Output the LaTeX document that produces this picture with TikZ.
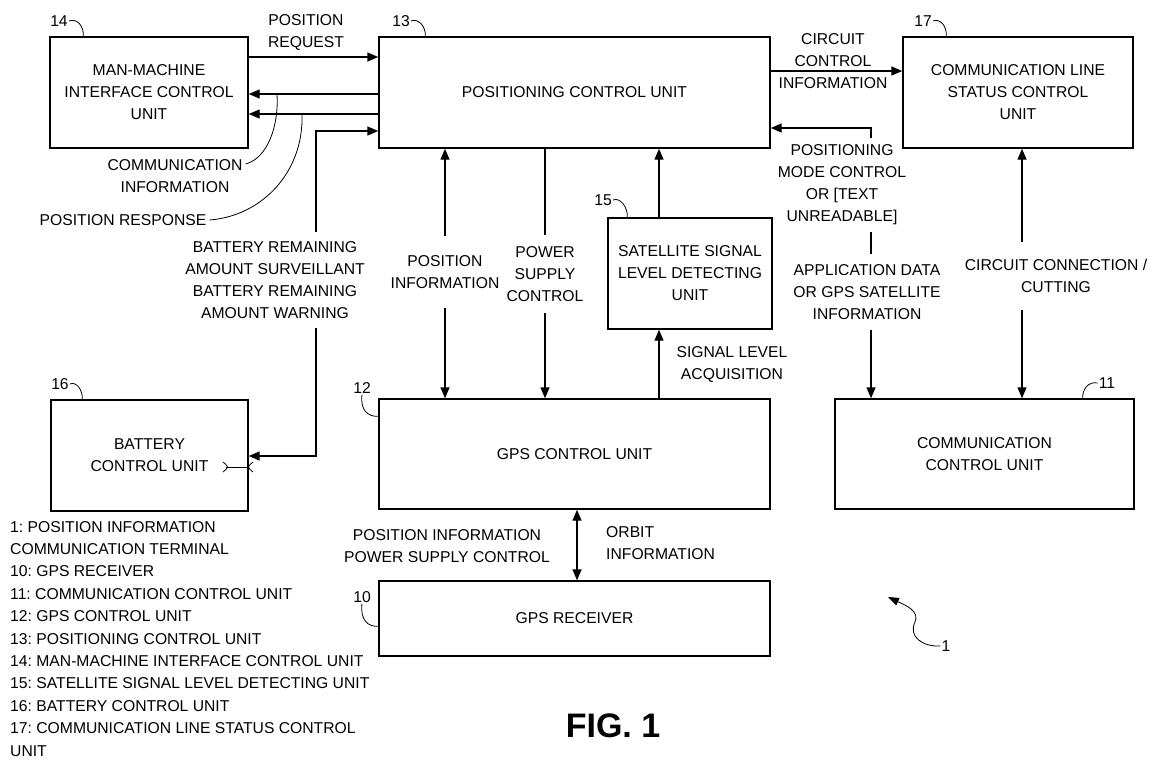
\documentclass[tikz,border=0pt]{standalone}
\usepackage{fontspec}
\setmainfont{Liberation Sans}
\usepackage{tikz}
\usetikzlibrary{arrows.meta}
\frenchspacing

\begin{document}
\begin{tikzpicture}[x=1pt,y=-1pt,>={Triangle[length=11pt,width=9pt]},
  font=\fontsize{15.7}{22}\selectfont,
  unit/.style={draw,line width=1.4pt,align=center,inner sep=0pt},
  flow/.style={line width=1.4pt},
  lead/.style={line width=0.8pt},
  lbl/.style={align=center,inner sep=3pt},
  gap/.style={align=center,inner xsep=3pt,inner ysep=0pt},
  tag/.style={inner sep=1pt}]
  \useasboundingbox (0,0) rectangle (1156,761);
  % blocks
  \node[unit,minimum width=198pt,minimum height=111pt] (mmi) at (149,92.5) {MAN-MACHINE\\INTERFACE CONTROL\\UNIT};
  \node[unit,minimum width=391pt,minimum height=111pt] (pcu) at (574.5,92.5) {POSITIONING CONTROL UNIT};
  \node[unit,minimum width=230pt,minimum height=111pt] (clsc) at (1018,92.5) {COMMUNICATION LINE\\STATUS CONTROL\\UNIT};
  \node[unit,minimum width=164pt,minimum height=111pt] (ssld) at (690,273.5) {SATELLITE SIGNAL\\LEVEL DETECTING\\UNIT};
  \node[unit,minimum width=197pt,minimum height=111pt] (bcu) at (149.5,455.5) {BATTERY\\CONTROL UNIT};
  \node[unit,minimum width=391pt,minimum height=110pt] (gcu) at (574.5,454) {GPS CONTROL UNIT};
  \node[unit,minimum width=391pt,minimum height=75pt] (gpsr) at (574.5,618.5) {GPS RECEIVER};
  \node[unit,minimum width=299pt,minimum height=110pt] (ccu) at (984.5,454) {COMMUNICATION\\CONTROL UNIT};
  % labels that cut a line
  \node[gap,minimum height=96pt] (batt) at (275,280) {BATTERY REMAINING\\AMOUNT SURVEILLANT\\BATTERY REMAINING\\AMOUNT WARNING};
  \node[gap,minimum height=72pt] (posinfo) at (445,272) {POSITION\\INFORMATION};
  \node[gap,minimum height=78pt] (psc) at (545,274) {POWER\\SUPPLY\\CONTROL};
  \node[gap,minimum height=94pt] (pmode) at (842,185) {POSITIONING\\MODE CONTROL\\OR [TEXT\\UNREADABLE]};
  \node[gap,minimum height=75pt] (appdata) at (867,292) {APPLICATION DATA\\OR GPS SATELLITE\\INFORMATION};
  \node[gap,minimum height=68pt] (cconn) at (1056,276) {CIRCUIT CONNECTION /\\CUTTING};
  % other labels
  \node[lbl] (preq) at (306,32) {POSITION\\REQUEST};
  \node[lbl] (cinfo) at (175,176) {COMMUNICATION\\INFORMATION};
  \node[lbl] (presp) at (123,220) {POSITION RESPONSE};
  \node[lbl] (ccinfo) at (833,61) {CIRCUIT\\CONTROL\\INFORMATION};
  \node[lbl] (siglev) at (732,364) {SIGNAL LEVEL\\ACQUISITION};
  \node[lbl,anchor=west,align=left] (orbit) at (603,543) {ORBIT\\INFORMATION};
  \node[lbl] (pisc) at (447,546) {POSITION INFORMATION\\POWER SUPPLY CONTROL};
  % connectors
  \draw[flow,->] (mmi.east |- 0,57) -- (pcu.west |- 0,57);
  \draw[flow,->] (pcu.west |- 0,94) -- (mmi.east |- 0,94);
  \draw[flow,->] (pcu.west |- 0,114) -- (mmi.east |- 0,114);
  \draw[flow,<-] (bcu.east |- 0,456) -| (batt.south -| 316,0);
  \draw[flow,->] (batt.north -| 316,0) |- (pcu.west |- 0,131);
  \draw[flow,->] (pcu.east |- 0,71) -- (clsc.west |- 0,71);
  \draw[flow,<-] (pcu.south -| 445,0) -- (posinfo.north -| 445,0);
  \draw[flow,->] (posinfo.south -| 445,0) -- (gcu.north -| 445,0);
  \draw[flow] (pcu.south -| 545,0) -- (psc.north -| 545,0);
  \draw[flow,->] (psc.south -| 545,0) -- (gcu.north -| 545,0);
  \draw[flow,->] (ssld.north -| 659,0) -- (pcu.south -| 659,0);
  \draw[flow,->] (gcu.north -| 659,0) -- (ssld.south -| 659,0);
  \draw[flow,->] (pmode.north -| 871,0) |- (pcu.east |- 0,128);
  \draw[flow] (pmode.south -| 871,0) -- (appdata.north -| 871,0);
  \draw[flow,->] (appdata.south -| 871,0) -- (ccu.north -| 871,0);
  \draw[flow,<-] (clsc.south -| 1022,0) -- (cconn.north -| 1022,0);
  \draw[flow,->] (cconn.south -| 1022,0) -- (ccu.north -| 1022,0);
  \draw[flow,<->] (gcu.south -| 577,0) -- (gpsr.north -| 577,0);
  % leaders
  \coordinate (ciend) at (277,94);
  \coordinate (prend) at (302,114);
  \draw[lead] ([yshift=12pt]cinfo.east) .. controls (268,158) and (279,125) .. (ciend);
  \draw[lead] (presp.east) .. controls (262,216) and (304,172) .. (prend);
  \draw[lead] (223,462) .. controls (229,467) .. (223,472);
  \draw[lead] (226,467) -- (bcu.east |- 0,467);
  \draw[lead] (253,462) .. controls (247,467) .. (253,472);
  % reference numerals
  \node[tag] (n14) at (59,21) {14};
  \node[tag] (n13) at (401,21) {13};
  \node[tag] (n17) at (923,21) {17};
  \node[tag] (n15) at (603,200) {15};
  \node[tag] (n16) at (60,384) {16};
  \node[tag] (n12) at (362,388) {12};
  \node[tag] (n10) at (362,597) {10};
  \node[tag] (n11) at (1107,383) {11};
  \node[tag] (n1) at (946,646) {1};
  \draw[lead] (n14.east) .. controls (77,18) and (84,26) .. ([xshift=34pt]mmi.north west);
  \draw[lead] (n13.east) .. controls (418,18) and (426,26) .. ([xshift=47pt]pcu.north west);
  \draw[lead] (n17.east) .. controls (940,18) and (947,26) .. ([xshift=44pt]clsc.north west);
  \draw[lead] (n15.east) .. controls (620,197) and (628,207) .. ([xshift=20pt]ssld.north west);
  \draw[lead] (n16.east) .. controls (76,381) and (83,390) .. ([xshift=32pt]bcu.north west);
  \draw[lead] (n12.south) .. controls (360,410) and (368,417) .. ([yshift=-18pt]gcu.north west);
  \draw[lead] (n10.south) .. controls (360,620) and (368,627) .. ([yshift=-46pt]gpsr.north west);
  \draw[lead] (n11.west) .. controls (1088,381) and (1082,390) .. ([xshift=-52pt]ccu.north east);
  \coordinate (term) at (888,597);
  \draw[lead,-{Triangle[length=11pt,width=8pt]}] (n1.west) .. controls (922,647) and (908,636) .. (915,622) .. controls (920,611) and (905,605) .. (term);
  % key
  \node[anchor=north west,align=left,inner sep=0pt,font=\fontsize{15.7}{22.4}\selectfont] (key) at (10,521)
    {1: POSITION INFORMATION\\COMMUNICATION TERMINAL\\10: GPS RECEIVER\\11: COMMUNICATION CONTROL UNIT\\12: GPS CONTROL UNIT\\13: POSITIONING CONTROL UNIT\\14: MAN-MACHINE INTERFACE CONTROL UNIT\\15: SATELLITE SIGNAL LEVEL DETECTING UNIT\\16: BATTERY CONTROL UNIT\\17: COMMUNICATION LINE STATUS CONTROL\\UNIT};
  \node[font=\fontsize{34}{40}\selectfont\bfseries] (fig) at (613,726) {FIG. 1};
\end{tikzpicture}
\end{document}
